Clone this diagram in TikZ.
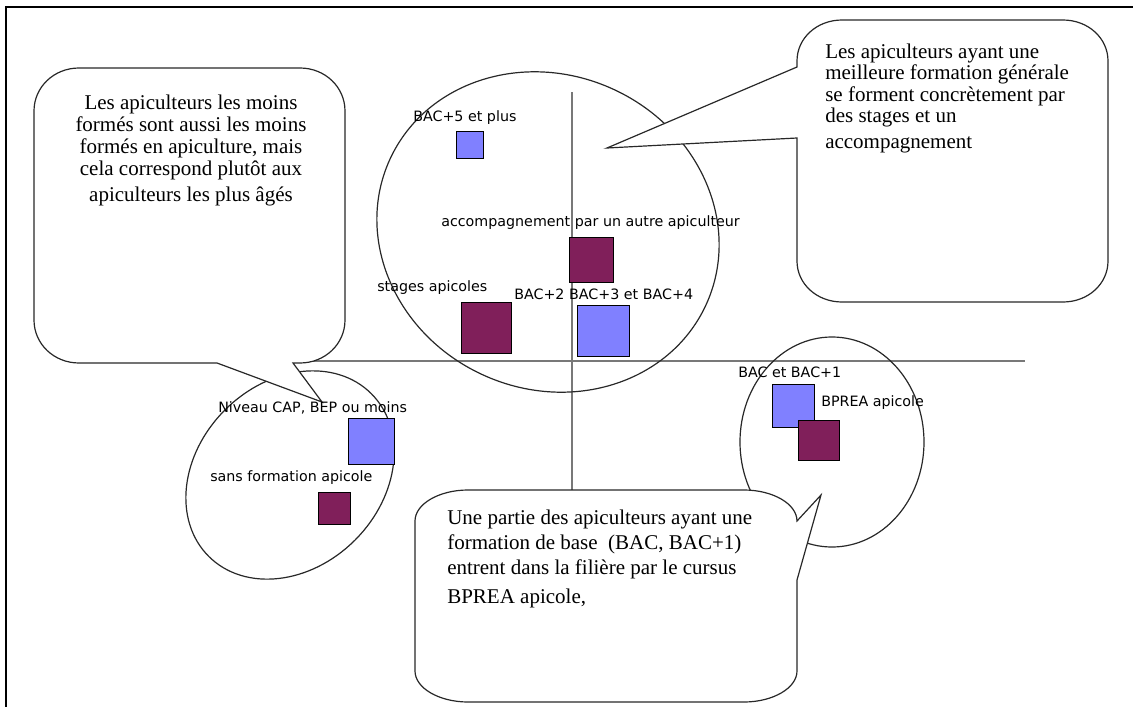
\documentclass[tikz,border=0pt]{standalone}
\usepackage{fontspec}
\setmainfont{Liberation Serif}
\newfontfamily\lblfont{DejaVu Sans}
\definecolor{sqblue}{RGB}{128,128,255}
\definecolor{sqmaroon}{RGB}{128,31,90}
\definecolor{axisgray}{RGB}{120,120,120}
\definecolor{inkline}{RGB}{40,40,40}
\begin{document}
\begin{tikzpicture}[x=0.75pt,y=-0.75pt,
  frameline/.style={line width=1.5pt,black},
  axisline/.style={axisgray,line width=0.8pt},
  oval/.style={inkline,line width=0.9pt},
  bubble/.style={inkline,line width=0.9pt,fill=white},
  sq/.style={draw=black,line width=0.75pt,inner sep=0pt},
  bluesq/.style={sq,fill=sqblue},
  maroonsq/.style={sq,fill=sqmaroon},
  lbl/.style={font=\lblfont\fontsize{10.7pt}{12pt}\selectfont,inner sep=0pt,anchor=west},
  btext/.style={inner sep=0pt}]
\useasboundingbox (0,0) rectangle (1133,707);
% frame (top and left)
\draw[frameline] (6,707) -- (6,7) -- (1133,7);
% axes
\draw[axisline] (572,92) -- (572,495);
\draw[axisline] (250,361) -- (1025,361);
% ellipses
\draw[oval,rotate around={-25:(548,232)}] (548,232) ellipse [x radius=130.5pt,y radius=117.75pt];
\draw[oval,rotate around={45:(290,475)}] (290,475) ellipse [x radius=86.25pt,y radius=69pt];
\draw[oval] (832,442) ellipse [x radius=69pt,y radius=78.75pt];
% squares
\node[bluesq,minimum width=20.25pt,minimum height=20.25pt] (s5) at (469.5,144.5) {};
\node[maroonsq,minimum width=33pt,minimum height=33.75pt] (sacc) at (591,259.5) {};
\node[maroonsq,minimum width=37.5pt,minimum height=38.25pt] (sstg) at (486,327.5) {};
\node[bluesq,minimum width=39pt,minimum height=38.25pt] (s234) at (603,330.5) {};
\node[bluesq,minimum width=34.5pt,minimum height=34.5pt] (scap) at (371,441) {};
\node[maroonsq,minimum width=24pt,minimum height=24pt] (ssans) at (334,508) {};
\node[bluesq,minimum width=31.5pt,minimum height=32.25pt] (sbac1) at (793,405.5) {};
\node[maroonsq,minimum width=30.75pt,minimum height=30pt] (sbprea) at (818.5,440) {};
% callouts
\draw[bubble] (79,68) -- (300,68) .. controls (325,68) and (345,87) .. (345,111)
  -- (345,320) .. controls (345,344) and (325,363) .. (300,363) -- (293,363)
  -- (322,402) -- (217,363) -- (79,363) .. controls (54,363) and (34,344) .. (34,320)
  -- (34,111) .. controls (34,87) and (54,68) .. (79,68) -- cycle;
\draw[bubble] (842,20) -- (1063,20) .. controls (1088,20) and (1108,38) .. (1108,61)
  -- (1108,261) .. controls (1108,284) and (1088,302) .. (1063,302)
  -- (842,302) .. controls (817,302) and (797,284) .. (797,261)
  -- (797,138) -- (607,148) -- (797,67) -- (797,61)
  .. controls (797,38) and (817,20) .. (842,20) -- cycle;
\draw[bubble] (468,490) -- (744,490) .. controls (773,490) and (797,504) .. (797,521)
  -- (821,495) -- (797,580) -- (797,671) .. controls (797,688) and (773,702) .. (744,702)
  -- (468,702) .. controls (439,702) and (415,688) .. (415,671)
  -- (415,521) .. controls (415,504) and (439,490) .. (468,490) -- cycle;
% callout texts
\node[btext,anchor=north,align=center,font=\fontsize{15.75pt}{16.5pt}\selectfont] (tl) at (191,94.5)
  {Les apiculteurs les moins\\formés sont aussi les moins\\formés en apiculture, mais\\cela correspond plutôt aux\\[3pt]apiculteurs les plus âgés};
\node[btext,anchor=north west,align=left,font=\fontsize{15.75pt}{16.1pt}\selectfont] (tr) at (825,43.5)
  {Les apiculteurs ayant une\\meilleure formation générale\\se forment concrètement par\\des stages et un\\[3.5pt]accompagnement};
\node[btext,anchor=north west,align=left,font=\fontsize{15.75pt}{18.75pt}\selectfont] (bt) at (447,509.5)
  {Une partie des apiculteurs ayant une\\formation de base\ \ (BAC, BAC+1)\\entrent dans la filière par le cursus\\[3pt]BPREA apicole,};
% labels
\node[lbl] (l5) at (413,118) {BAC+5 et plus};
\node[lbl] (lacc) at (441,223) {accompagnement par un autre apiculteur};
\node[lbl] (lstg) at (377,288) {stages apicoles};
\node[lbl] (l234) at (514,294) {BAC+2 BAC+3 et BAC+4};
\node[lbl] (lcap) at (218,408) {Niveau CAP, BEP ou moins};
\node[lbl] (lsans) at (210,478) {sans formation apicole};
\node[lbl] (lbac1) at (738,372) {BAC et BAC+1};
\node[lbl] (lbprea) at (821,403) {BPREA apicole};
\end{tikzpicture}
\end{document}
